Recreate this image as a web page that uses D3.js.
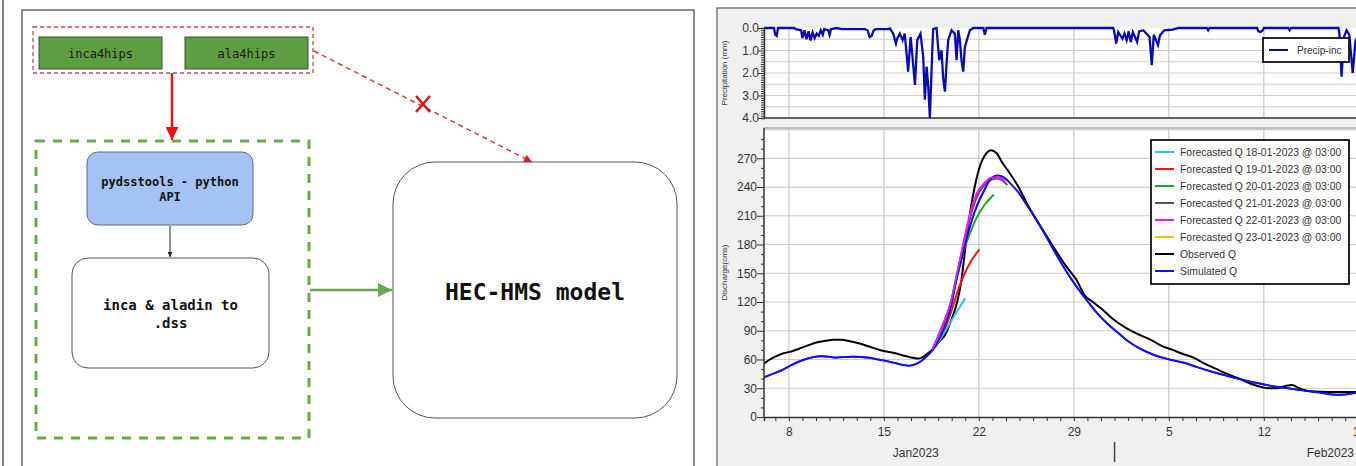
<!DOCTYPE html>
<html><head><meta charset="utf-8">
<script src="https://cdn.jsdelivr.net/npm/d3@7"></script>
<style>
html,body{margin:0;padding:0;background:#fff;overflow:hidden}
svg{display:block}
</style></head>
<body>
<svg id="c" width="1356" height="466"></svg>
<script>
// ---------------- DATA ----------------
// days are fractional day-of-January-2023 (32 = Feb 1)
const precipDay = [6.17,6.9,7.0,7.1,7.2,8.4,8.5,8.9,9.0,9.15,9.3,9.45,9.6,9.75,9.9,10.05,10.2,10.35,10.5,10.6,10.9,11.0,11.1,11.5,11.9,13.6,13.8,13.95,14.1,14.25,14.4,15.3,15.44,15.69,15.89,15.98,16.18,16.38,16.54,16.79,16.97,17.11,17.29,17.46,17.7,17.9,18.02,18.15,18.27,18.39,18.52,18.63,18.88,19.08,19.25,19.37,19.5,19.62,19.74,19.99,20.23,20.36,20.48,20.6,20.72,20.85,20.97,21.15,21.34,21.59,22.33,22.44,22.56,31.9,31.96,32.12,32.27,32.58,32.73,32.89,33.04,33.2,33.35,33.66,33.81,34.12,34.58,34.74,34.89,35.2,35.35,35.66,36.27,36.73,38.8,38.9,39.0,42.5,42.6,42.75,42.9,43.0,44.8,44.9,45.0,48.5,48.57,48.73,48.9,49.1,49.3,49.55,49.75,50,51];
const precipMm  = [0,0,0.3,0.35,0,0,0.05,0.1,0.45,0.1,0.5,0.15,0.55,0.2,0.45,0.25,0.35,0.1,0.3,0.05,0.1,0.3,0.05,0,0.05,0.05,0.1,0.4,0.35,0.1,0.05,0.05,0.02,0.25,0.69,0.47,0.25,0.54,0.25,1.94,0.4,1.28,2.53,0.54,0.25,1.28,3.19,1.72,2.6,4.0,1.8,0.05,0,1.43,0.99,2.24,2.83,1.57,0.54,0.1,0.25,1.43,0.1,0.54,1.43,1.94,0.84,0.47,0.1,0,0,0.3,0,0,0.1,0.69,0.18,0.47,0.25,0.54,0.15,0.62,0.18,0.62,0.15,0.1,0.4,1.65,0.3,0.76,0.32,0.1,0.07,0,0,0.1,0,0,0.15,0.18,0.12,0,0,0.1,0,0,0.25,2.16,0.4,0.1,0.3,2.0,0.6,0.2,0];

const obsDay = [6.1,6.6,7.0,7.5,8.07,8.7,9.46,10.1,10.7,11.3,11.9,12.5,13.15,13.9,14.7,15.5,16.24,16.9,17.5,17.8,18.2,18.55,18.9,19.17,19.48,19.94,20.4,20.7,21.0,21.33,21.8,22.25,22.6,22.87,23.1,23.33,23.7,24.1,24.88,25.5,26.1,26.9,27.65,28.4,29.2,29.8,30.4,31.04,31.9,32.9,33.8,34.74,35.5,36.28,37.0,37.82,38.6,39.36,40.3,41.2,42.0,42.76,43.4,43.97,44.6,45.07,45.6,46.15,46.8,47.7,48.5,49.7,51];
const obsQ   = [55,60,63,66,68,71,75,78,79.5,80.5,80.5,79,77,73.5,70,67.5,65,62.5,61,62,66,70,75.5,80,85,100,120,141,176,211,247,268,276,278.5,277.5,275,266,258,241,224,209,191,174,158,143,127,120,113,102,92.5,86,80,74,70,66,62,56,51,45,40,35,31.5,30,30,32.5,33.5,30,27.5,26.5,26,26,26,26];

const simDay = [6.1,6.8,7.5,8.3,9.15,9.8,10.36,10.9,11.4,12.0,12.7,13.78,14.4,15.0,15.9,16.5,16.84,17.2,17.48,17.9,18.25,18.6,19.0,19.5,19.94,20.3,20.7,21.1,21.48,21.9,22.4,22.7,23.0,23.4,23.7,24.1,24.5,24.88,25.5,26.1,26.9,27.65,28.4,29.2,30.0,30.7,31.5,32.27,33.0,33.8,34.6,35.35,36.2,37.2,38.1,39.06,40.0,40.9,41.8,42.76,43.7,44.6,45.5,46.4,47.3,48.3,49.0,49.7,51];
const simQ   = [41,45,49,55,60,62.5,63.5,63,62,62.5,63,62,60.5,59,56,54,53.5,54.5,56,60,64.8,70,78.7,95,115,140,163.6,186,205.3,222,236.6,245,250,252,251,247,241,235,222,209,190,171,153,136,121,108.6,97,87.7,79,72,66.5,62.6,59.5,56.4,52,47.7,44,40.7,37.5,34.8,32,30.3,28.5,26.8,25,23.3,23.5,25,25.5];

const fc18Day = [18.6,19.0,19.5,20.3,21.0];
const fc18Q   = [71,78,89,108,124];
const fc19Day = [18.6,19.2,19.94,20.56,21.2,22.04];
const fc19Q   = [71,82,109,136,157,175];
const fc20Day = [18.6,19.3,19.94,20.56,21.2,21.8,22.4,23.1];
const fc20Q   = [71,88,120,160,186,207,221,232];
const fc21Day = [18.6,19.3,19.94,20.56,21.2,21.8,22.4,23.0,23.4,23.8,24.1];
const fc21Q   = [71,92,118,160,200,228,242,248,249,246,242];
const fc22Day = [18.6,19.3,19.94,20.56,21.2,21.8,22.4,23.0,23.5,23.9];
const fc22Q   = [71,95,120,160,203,232,244,250,250,246];
const fc23Day = [18.6,19.3,19.94,20.56,21.2,21.8,22.4,23.0,23.5,24.0,24.5,25.0];
const fc23Q   = [71,94,119,160,202,230,243,249,251,247,241,232];

const seriesNames  = ["Forecasted Q 18-01-2023 @ 03:00","Forecasted Q 19-01-2023 @ 03:00","Forecasted Q 20-01-2023 @ 03:00","Forecasted Q 21-01-2023 @ 03:00","Forecasted Q 22-01-2023 @ 03:00","Forecasted Q 23-01-2023 @ 03:00","Observed Q","Simulated Q"];
const seriesColors = ["#22c4f4","#ff1010","#1fa51f","#555555","#ff10ff","#f5c000","#000000","#1010ff"];

const qTicks = [0,30,60,90,120,150,180,210,240,270];
const pTicks = [0,1,2,3,4];
const monthLabels = ["Jan2023","Feb2023"];

// ---------------- HELPERS ----------------
const dayToDate = d => new Date(Date.UTC(2023,0,1) + (d-1)*864e5);
const svg = d3.select("#c");
const mono = "'DejaVu Sans Mono', monospace";
const sans = "Arial, 'Liberation Sans', sans-serif";

// =============== LEFT: DIAGRAM ===============
const L = svg.append("g");
const defs = svg.append("defs");
function marker(id, color, w, h){
  defs.append("marker").attr("id",id).attr("viewBox","0 0 10 10").attr("refX",10).attr("refY",5)
    .attr("markerUnits","userSpaceOnUse").attr("markerWidth",w).attr("markerHeight",h).attr("orient","auto")
    .append("path").attr("d","M0,0L10,5L0,10Z").attr("fill",color);
}
marker("mRed","#ee1111",14,13);
marker("mGreen","#6aa84f",15,14);
marker("mBlack","#222",5,5);
marker("mRedS","#dd2222",9,8);

L.append("line").attr("x1",3).attr("x2",3).attr("y1",0).attr("y2",466).attr("stroke","#555").attr("stroke-width",1.5);
L.append("rect").attr("x",22).attr("y",10).attr("width",672).attr("height",480).attr("fill","#fff").attr("stroke","#666").attr("stroke-width",1.5);

// red dashed group
L.append("rect").attr("x",33).attr("y",27).attr("width",280).attr("height",46).attr("fill","none")
  .attr("stroke","#c84848").attr("stroke-width",1.3).attr("stroke-dasharray","4,3");
[[39,"inca4hips"],[185,"ala4hips"]].forEach(([x,t])=>{
  L.append("rect").attr("x",x).attr("y",37).attr("width",123).attr("height",32).attr("fill","#5e9e42").attr("stroke","#3a4a3a").attr("stroke-width",1);
  L.append("text").attr("x",x+61.5).attr("y",58).attr("text-anchor","middle").attr("font-family",mono).attr("font-size",12).attr("fill","#1a1a1a").text(t);
});
// red arrow
L.append("line").attr("x1",172).attr("y1",73).attr("x2",172).attr("y2",140).attr("stroke","#ee1111").attr("stroke-width",2.5).attr("marker-end","url(#mRed)");
// red dashed arrow to HEC
L.append("line").attr("x1",314).attr("y1",51).attr("x2",532).attr("y2",162).attr("stroke","#d83a3a").attr("stroke-width",1.5).attr("stroke-dasharray","5,4").attr("marker-end","url(#mRedS)");
L.append("path").attr("d","M416,96L430,112M430,96L416,112").attr("stroke","#e01010").attr("stroke-width",2.5).attr("fill","none");

// green dashed box
L.append("rect").attr("x",36).attr("y",141).attr("width",273).attr("height",297).attr("fill","none")
  .attr("stroke","#6aa84f").attr("stroke-width",3).attr("stroke-dasharray","9,8");
// pydsstools box
L.append("rect").attr("x",87).attr("y",152).attr("width",166).attr("height",73).attr("rx",11).attr("fill","#a4c2f4").attr("stroke","#5d6a80").attr("stroke-width",1);
L.append("text").attr("x",170).attr("y",186).attr("text-anchor","middle").attr("font-family",mono).attr("font-weight","bold").attr("font-size",12).attr("fill","#111").text("pydsstools - python");
L.append("text").attr("x",170).attr("y",201).attr("text-anchor","middle").attr("font-family",mono).attr("font-weight","bold").attr("font-size",12).attr("fill","#111").text("API");
L.append("line").attr("x1",170).attr("y1",226).attr("x2",170).attr("y2",257).attr("stroke","#222").attr("stroke-width",1).attr("marker-end","url(#mBlack)");
// inca & aladin box
L.append("rect").attr("x",72).attr("y",258).attr("width",197).attr("height",110).attr("rx",16).attr("fill","#fff").attr("stroke","#555").attr("stroke-width",1);
L.append("text").attr("x",170.5).attr("y",310).attr("text-anchor","middle").attr("font-family",mono).attr("font-weight","bold").attr("font-size",14).attr("fill","#111").text("inca & aladin to");
L.append("text").attr("x",170.5).attr("y",328).attr("text-anchor","middle").attr("font-family",mono).attr("font-weight","bold").attr("font-size",14).attr("fill","#111").text(".dss");
// green arrow
L.append("line").attr("x1",310).attr("y1",290).attr("x2",392).attr("y2",290).attr("stroke","#6aa84f").attr("stroke-width",2.5).attr("marker-end","url(#mGreen)");
// HEC box
L.append("rect").attr("x",393).attr("y",162).attr("width",284).attr("height",256).attr("rx",42).attr("fill","#fff").attr("stroke","#555").attr("stroke-width",1);
L.append("text").attr("x",535).attr("y",300).attr("text-anchor","middle").attr("font-family",mono).attr("font-weight","bold").attr("font-size",23).attr("fill","#111").text("HEC-HMS model");

// =============== RIGHT: HEC-HMS GRAPH ===============
const R = svg.append("g");
R.append("rect").attr("x",717).attr("y",8).attr("width",700).attr("height",500).attr("fill","#f0f0f0").attr("stroke","#7a7a7a").attr("stroke-width",1.5);

const pxPerDay = 13.57;
const x0Day = 6.1667, x1Day = 51;
const x = d3.scaleUtc().domain([dayToDate(x0Day), dayToDate(x1Day)]).range([764, 764 + (x1Day-x0Day)*pxPerDay]);
const plotL = 764, plotR = x.range()[1];
const pTop = 28, pBot = 118, qTop = 128, qBot = 417;
const yP = d3.scaleLinear().domain([0,4]).range([pTop,pBot]);
const yQ = d3.scaleLinear().domain([0,301.6]).range([qBot,qTop]);

defs.append("clipPath").attr("id","clipP").append("rect").attr("x",plotL).attr("y",pTop-2).attr("width",plotR-plotL).attr("height",pBot-pTop+2);
defs.append("clipPath").attr("id","clipQ").append("rect").attr("x",plotL).attr("y",qTop).attr("width",plotR-plotL).attr("height",qBot-qTop);

// plot backgrounds
R.append("rect").attr("x",plotL).attr("y",pTop).attr("width",plotR-plotL).attr("height",pBot-pTop).attr("fill","#fff");
R.append("rect").attr("x",plotL).attr("y",qTop).attr("width",plotR-plotL).attr("height",qBot-qTop).attr("fill","#fff");

const allDays = d3.utcDay.range(dayToDate(7), dayToDate(x1Day));
const weekDays = allDays.filter(d => Math.round((d - dayToDate(8))/864e5) % 7 === 0);

// grids
const gridC = "#cbcbcb";
R.append("g").selectAll("line").data(weekDays).join("line")
  .attr("x1",d=>x(d)).attr("x2",d=>x(d)).attr("y1",pTop).attr("y2",pBot).attr("stroke",gridC).attr("stroke-width",1.3);
R.append("g").selectAll("line").data(d3.range(0.5,4,0.5)).join("line")
  .attr("x1",plotL).attr("x2",plotR).attr("y1",d=>yP(d)).attr("y2",d=>yP(d)).attr("stroke",gridC).attr("stroke-width",1.2);
R.append("g").selectAll("line").data(weekDays).join("line")
  .attr("x1",d=>x(d)).attr("x2",d=>x(d)).attr("y1",qTop).attr("y2",qBot).attr("stroke",gridC).attr("stroke-width",1.3);
R.append("g").selectAll("line").data(qTicks.slice(1).concat([300])).join("line")
  .attr("x1",plotL).attr("x2",plotR).attr("y1",d=>yQ(d)).attr("y2",d=>yQ(d)).attr("stroke",gridC).attr("stroke-width",1.2);

// precip line
const precipPts = precipDay.map((d,i)=>[dayToDate(d), precipMm[i]]);
R.append("path").datum(precipPts).attr("clip-path","url(#clipP)")
  .attr("d", d3.line().x(d=>x(d[0])).y(d=>yP(d[1])))
  .attr("fill","none").attr("stroke","#0a0ab4").attr("stroke-width",2.3);

// discharge lines
const mk = (days, vals) => days.map((d,i)=>[dayToDate(d), vals[i]]);
const qLine = d3.line().x(d=>x(d[0])).y(d=>yQ(d[1])).curve(d3.curveMonotoneX);
const series = [
  [mk(simDay,simQ), 7],
  [mk(obsDay,obsQ), 6],
  [mk(fc23Day,fc23Q), 5],
  [mk(fc21Day,fc21Q), 3],
  [mk(fc22Day,fc22Q), 4],
  [mk(fc20Day,fc20Q), 2],
  [mk(fc19Day,fc19Q), 1],
  [mk(fc18Day,fc18Q), 0],
];
const gQ = R.append("g").attr("clip-path","url(#clipQ)");
series.forEach(([pts,ci])=>{
  gQ.append("path").datum(pts).attr("d",qLine).attr("fill","none").attr("stroke",seriesColors[ci]).attr("stroke-width",2).attr("stroke-linejoin","round");
});
gQ.append("path").datum(mk(simDay,simQ)).attr("d",qLine).attr("fill","none").attr("stroke",seriesColors[7]).attr("stroke-width",1.6);
gQ.append("path").datum(mk(fc22Day,fc22Q)).attr("d",qLine).attr("fill","none").attr("stroke",seriesColors[4]).attr("stroke-width",1.3);

// axes
const axColor = "#333";
function styleAxis(g){
  g.selectAll("path.domain").attr("stroke",axColor).attr("stroke-width",1.5);
  g.selectAll(".tick line").attr("stroke",axColor);
  g.selectAll("text").attr("font-family",sans).attr("font-size",12).attr("fill","#333");
}
// precip y
const pMinor = d3.range(0,4.0001,0.1).map(v=>+v.toFixed(2));
const gP = R.append("g").attr("transform",`translate(${plotL},0)`)
  .call(d3.axisLeft(yP).tickValues(pMinor).tickSize(3).tickPadding(3)
    .tickFormat(v => pTicks.includes(v) ? d3.format(".1f")(v) : ""));
styleAxis(gP);
gP.selectAll(".tick").filter(v=>pTicks.includes(v)).select("line").attr("x2",-6);
gP.selectAll(".tick").filter(v=>pTicks.includes(v)).select("text").attr("x",-5);
R.append("line").attr("x1",plotL).attr("x2",plotR).attr("y1",pBot).attr("y2",pBot).attr("stroke",axColor).attr("stroke-width",1.5);
R.append("line").attr("x1",plotL).attr("x2",plotR).attr("y1",qTop).attr("y2",qTop).attr("stroke","#888").attr("stroke-width",1.2);

// discharge y
const qMinor = d3.range(0,300,10);
const gY = R.append("g").attr("transform",`translate(${plotL},0)`)
  .call(d3.axisLeft(yQ).tickValues(qMinor).tickSize(3).tickPadding(3)
    .tickFormat(v => qTicks.includes(v) ? String(v) : ""));
styleAxis(gY);
gY.selectAll(".tick").filter(v=>qTicks.includes(v)).select("line").attr("x2",-7);
gY.selectAll(".tick").filter(v=>qTicks.includes(v)).select("text").attr("x",-7);
gY.select("path.domain").attr("d",`M0,${qTop}V${qBot}`);

// x axis
const gX = R.append("g").attr("transform",`translate(0,${qBot})`)
  .call(d3.axisBottom(x).tickValues(allDays).tickSize(4).tickPadding(6)
    .tickFormat(d => weekDays.some(w=>+w===+d) ? d3.utcFormat("%-d")(d) : ""));
styleAxis(gX);

// month labels & separator
const sepX = x(dayToDate(32));
R.append("line").attr("x1",sepX).attr("x2",sepX).attr("y1",442).attr("y2",462).attr("stroke","#444").attr("stroke-width",1.5);
R.append("text").attr("x",x(dayToDate(17.35))).attr("y",457).attr("text-anchor","middle").attr("font-family",sans).attr("font-size",12).attr("fill","#333").text(monthLabels[0]);
R.append("text").attr("x",1354).attr("y",457).attr("text-anchor","end").attr("font-family",sans).attr("font-size",12).attr("fill","#333").text(monthLabels[1]);

// axis titles
R.append("text").attr("transform",`translate(727,${(pTop+pBot)/2}) rotate(-90)`).attr("text-anchor","middle")
  .attr("font-family",sans).attr("font-size",8).attr("fill","#333").text("Precipitation (mm)");
R.append("text").attr("transform",`translate(727,${(qTop+qBot)/2}) rotate(-90)`).attr("text-anchor","middle")
  .attr("font-family",sans).attr("font-size",8).attr("fill","#333").text("Discharge(cms)");

// precip legend
R.append("rect").attr("x",1263).attr("y",38).attr("width",86).attr("height",24).attr("fill","#fff").attr("stroke","#111").attr("stroke-width",1.8);
R.append("line").attr("x1",1269).attr("x2",1288).attr("y1",50).attr("y2",50).attr("stroke","#0a0ab4").attr("stroke-width",2);
R.append("text").attr("x",1297).attr("y",54).attr("font-family",sans).attr("font-size",10).attr("fill","#333").text("Precip-inc");

// discharge legend
R.append("rect").attr("x",1151).attr("y",140).attr("width",198).attr("height",144).attr("fill","#fff").attr("stroke","#111").attr("stroke-width",1.8);
const lg = R.append("g").selectAll("g").data(seriesNames).join("g").attr("transform",(d,i)=>`translate(1155,${152+i*17})`);
lg.append("line").attr("x1",0).attr("x2",19).attr("stroke",(d,i)=>seriesColors[i]).attr("stroke-width",2);
lg.append("text").attr("x",25).attr("y",4).attr("font-family",sans).attr("font-size",10.4).attr("fill","#333").text(d=>d);
</script>
</body></html>
